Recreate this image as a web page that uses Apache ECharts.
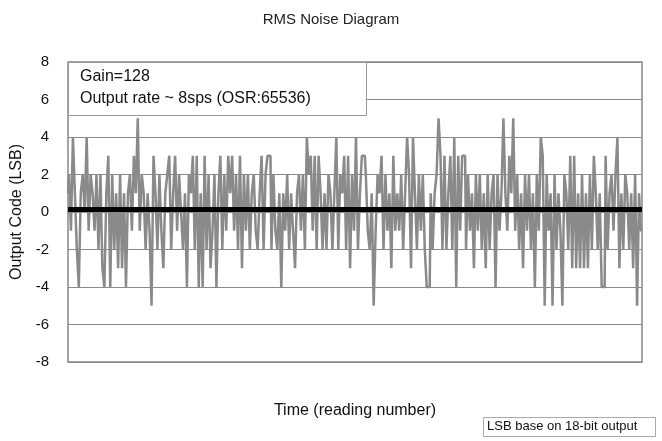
<!DOCTYPE html>
<html>
<head>
<meta charset="utf-8">
<script src="https://cdn.jsdelivr.net/npm/echarts@6/dist/echarts.min.js"></script>
<style>
  html, body { margin: 0; padding: 0; background: #fff; }
  #chart { width: 662px; height: 441px; }
</style>
</head>
<body>
<div id="chart"></div>
<script>
// readings (LSB) left to right
var noise = [
  1, 2, -1, 4, 1, -2, -4, 1, 2, 0, 4, -1, 2, 1, -1, 2, -2, 2, -3, -4, 1, 3, -4, 2, -2, 1, -3, 2, -3, 1, -4, 1, 2, -1, 3, 1, 5, -1, 2, 1, -2, 1,
  -1, -5, 3, 1, -2, 2, -1, -3, 1, 2, 3, -2, 1, 3, -1, 2, 0, -2, 1, -4, 2, 1, 3, -2, 3, -4, 1, -4, 3, -2, 2, -3, -1, 2, -4, 1, 3, -2, 2, -1, 3, 1,
  3, -1, 2, -2, 3, -3, 2, -1, 2, -2, 1, 2, -1, -2, 1, 3, -2, 2, 3, 3, -2, 2, -1, -2, 1, -4, 1, -1, 2, -2, 1, -1, -3, 1, 2, -1, 2, -2, 4, 2, 3, -1,
  3, -2, 3, 1, -2, 1, -2, 2, 1, -2, 1, 4, -2, 2, 1, 3, -2, 3, -3, 2, -1, 4, -2, 1, 3, 3, 2, -1, -2, 1, -5, -1, 2, 1, 3, -2, 2, -1, 1, -3, 3, -1,
  1, -1, 2, -2, 1, 4, 2, -3, 4, 1, -2, 2, -1, 2, -2, -4, -4, 1, -2, 1, 2, 5, 3, -2, 3, -2, 1, 3, -2, 4, -4, 3, -1, 3, 3, -2, 2, -1, 1, -3, 2, -1,
  2, -2, 1, -3, 2, -2, 1, 2, -4, 2, -1, 1, 5, 1, -1, 3, 1, 5, -1, 2, -2, 1, -3, 2, -1, 2, -2, 1, -4, 2, -1, 4, 3, -5, 2, -1, 1, -5, 2, -2, 1, -1,
  -5, 2, 1, -2, 3, -3, 3, -3, 1, -3, 2, -3, 1, -3, 2, -2, 3, 1, -2, 1, -4, -4, 3, -2, 1, 2, -1, 2, 4, -3, 1, -2, 2, 1, -2, 1, -3, 2, -5, 1, -1
];
var meanValue = 0.15;
var yTicks = [-8, -6, -4, -2, 0, 2, 4, 6, 8];

var readings = noise.map(function (v, i) { return i + 1 });
var font = 'Liberation Sans, Arial, sans-serif';

var chart = echarts.init(document.getElementById('chart'));
var option = {
    animation: false,
    backgroundColor: '#fff',
    textStyle: { fontFamily: font },
    title: {
        text: 'RMS Noise Diagram',
        left: 'center',
        top: 7,
        textStyle: { fontSize: 15, fontWeight: 'normal', color: '#222', fontFamily: font }
    },
    grid: { left: 68, right: 20, top: 62, bottom: 79, show: true, borderColor: '#888', borderWidth: 1.5 },
    xAxis: {
        type: 'category',
        data: readings,
        boundaryGap: false,
        name: 'Time (reading number)',
        nameLocation: 'middle',
        nameGap: 41,
        nameTextStyle: { fontSize: 16, color: '#111' },
        axisLine: { show: false },
        axisTick: { show: false },
        axisLabel: { show: false },
        splitLine: { show: false }
    },
    yAxis: {
        type: 'value',
        min: yTicks[0],
        max: yTicks[yTicks.length - 1],
        interval: 2,
        name: 'Output Code (LSB)',
        nameLocation: 'middle',
        nameGap: 36,
        nameTextStyle: { fontSize: 16, color: '#111' },
        axisLine: { show: false },
        axisTick: { show: false },
        axisLabel: { fontSize: 15, color: '#111', margin: 19 },
        splitLine: { lineStyle: { color: '#8a8a8a', width: 1 } }
    },
    series: [{
        name: 'noise',
        type: 'line',
        data: noise,
        step: 'middle',
        symbol: 'none',
        lineStyle: { color: '#8a8a8a', width: 2.5 },
        markLine: {
            silent: true,
            symbol: 'none',
            label: { show: false },
            lineStyle: { color: '#000', width: 5, type: 'solid' },
            data: [{ yAxis: meanValue }]
        },
        z: 2
    }],
    graphic: [
        { type: 'rect', z: 100, left: 68, top: 62, shape: { width: 298, height: 53 }, style: { fill: '#fff', stroke: '#999', lineWidth: 1 } },
        { type: 'text', z: 101, left: 80, top: 69, style: { text: 'Gain=128', fontSize: 16, fill: '#111', fontFamily: font } },
        { type: 'text', z: 101, left: 80, top: 91, style: { text: 'Output rate ~ 8sps (OSR:65536)', fontSize: 16, fill: '#111', fontFamily: font } },
        { type: 'rect', z: 100, left: 483, top: 417, shape: { width: 172, height: 19 }, style: { fill: '#fff', stroke: '#aaa', lineWidth: 1 } },
        { type: 'text', z: 101, left: 487, top: 420, style: { text: 'LSB base on 18-bit output', fontSize: 13, fill: '#111', fontFamily: font } }
    ]
};
chart.setOption(option);
</script>
</body>
</html>
